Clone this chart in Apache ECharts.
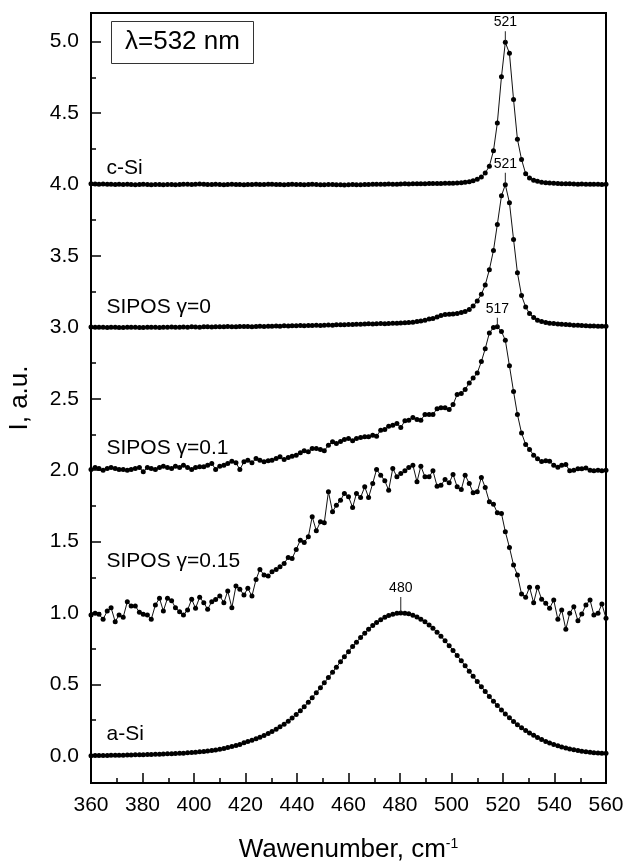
<!DOCTYPE html>
<html><head><meta charset="utf-8">
<script src="https://cdn.jsdelivr.net/npm/echarts@6/dist/echarts.min.js"></script>
<style>html,body{margin:0;padding:0;background:#fff}#c{width:624px;height:864px}</style>
</head><body><div id="c"></div>
<script>
const WAVENUMBER = [
360.0,361.6,363.1,364.7,366.3,367.8,369.4,370.9,
372.5,374.1,375.6,377.2,378.8,380.3,381.9,383.4,
385.0,386.6,388.1,389.7,391.3,392.8,394.4,395.9,
397.5,399.1,400.6,402.2,403.8,405.3,406.9,408.4,
410.0,411.6,413.1,414.7,416.3,417.8,419.4,420.9,
422.5,424.1,425.6,427.2,428.8,430.3,431.9,433.4,
435.0,436.6,438.1,439.7,441.3,442.8,444.4,445.9,
447.5,449.1,450.6,452.2,453.8,455.3,456.9,458.4,
460.0,461.6,463.1,464.7,466.3,467.8,469.4,470.9,
472.5,474.1,475.6,477.2,478.8,480.3,481.9,483.4,
485.0,486.6,488.1,489.7,491.3,492.8,494.4,495.9,
497.5,499.1,500.6,502.2,503.8,505.3,506.9,508.4,
510.0,511.6,513.1,514.7,516.3,517.8,519.4,520.9,
522.5,524.1,525.6,527.2,528.8,530.3,531.9,533.4,
535.0,536.6,538.1,539.7,541.3,542.8,544.4,545.9,
547.5,549.1,550.6,552.2,553.8,555.3,556.9,558.4,
560.0];

const C_SI = [
4.004,4.003,4.002,4.003,4.001,4.002,4.000,4.001,
3.999,4.001,4.000,3.998,4.000,4.001,3.999,3.998,
4.000,3.999,3.997,3.999,4.000,3.998,3.999,4.001,
4.002,4.000,4.002,4.003,4.001,4.000,3.999,4.001,
4.000,3.998,3.999,4.001,4.000,3.999,3.997,3.999,
4.000,4.001,3.999,4.000,4.002,4.001,4.000,3.999,
3.998,4.000,4.001,4.000,3.999,3.998,4.000,4.001,
4.000,3.998,3.997,3.999,4.000,3.998,3.997,3.996,
3.998,3.999,3.997,3.998,4.000,3.999,4.001,4.002,
4.001,4.002,4.003,4.002,4.001,4.003,4.004,4.003,
4.004,4.005,4.004,4.005,4.006,4.006,4.007,4.007,
4.008,4.008,4.009,4.010,4.012,4.015,4.019,4.026,
4.036,4.052,4.080,4.128,4.236,4.430,4.753,4.995,
4.918,4.594,4.317,4.175,4.075,4.045,4.030,4.022,
4.016,4.012,4.010,4.008,4.006,4.005,4.004,4.004,
4.003,4.002,4.003,4.002,4.001,4.002,4.001,4.000,
4.001];

const SIPOS_0 = [
3.002,3.001,3.000,3.001,2.999,3.000,3.001,2.999,
2.998,3.000,3.001,3.000,2.999,2.998,3.000,3.001,
3.000,2.999,3.000,3.001,3.002,3.000,3.001,3.002,
3.001,3.003,3.002,3.001,3.003,3.004,3.002,3.003,
3.004,3.003,3.005,3.004,3.003,3.005,3.006,3.005,
3.004,3.006,3.007,3.006,3.008,3.007,3.009,3.008,
3.010,3.009,3.011,3.010,3.012,3.011,3.013,3.012,
3.014,3.013,3.015,3.016,3.015,3.017,3.018,3.017,
3.019,3.020,3.022,3.021,3.023,3.024,3.023,3.025,
3.026,3.025,3.027,3.028,3.029,3.030,3.031,3.033,
3.035,3.040,3.044,3.050,3.058,3.061,3.072,3.082,
3.089,3.091,3.093,3.096,3.103,3.110,3.124,3.149,
3.184,3.231,3.296,3.403,3.538,3.720,3.921,3.998,
3.872,3.615,3.382,3.222,3.142,3.096,3.068,3.049,
3.040,3.033,3.029,3.026,3.023,3.021,3.019,3.017,
3.015,3.014,3.012,3.011,3.009,3.009,3.008,3.007,
3.007];

const SIPOS_01 = [
2.005,2.019,2.012,2.000,2.012,2.019,2.012,2.005,2.005,2.000,
2.005,2.012,2.019,1.988,2.019,2.012,2.005,2.019,2.028,2.019,
2.012,2.028,2.019,2.035,2.019,2.005,2.019,2.023,2.023,2.035,
2.047,2.005,2.028,2.035,2.047,2.063,2.051,2.005,2.058,2.070,
2.051,2.082,2.070,2.058,2.065,2.070,2.082,2.093,2.075,2.088,
2.098,2.105,2.121,2.135,2.128,2.152,2.152,2.145,2.135,2.175,
2.198,2.187,2.200,2.215,2.222,2.205,2.222,2.228,2.233,2.233,
2.245,2.238,2.280,2.285,2.308,2.315,2.327,2.298,2.345,2.350,
2.368,2.355,2.350,2.390,2.390,2.390,2.430,2.436,2.436,2.424,
2.459,2.530,2.536,2.564,2.610,2.645,2.680,2.760,2.850,2.960,
2.998,3.003,2.970,2.910,2.730,2.550,2.390,2.260,2.180,2.145,
2.105,2.080,2.060,2.065,2.063,2.035,2.020,2.035,2.040,1.995,
2.000,2.010,2.010,2.015,2.000,1.995,2.000,1.995,2.000];

const SIPOS_015 = [
0.986,0.998,0.991,0.956,1.014,1.037,0.939,0.986,0.970,1.079,
1.049,1.049,1.005,0.991,0.986,0.956,1.056,1.103,1.014,1.103,
1.086,1.037,1.009,0.986,1.021,1.096,1.033,1.110,1.072,1.026,
1.079,1.095,1.119,1.072,1.154,1.037,1.189,1.166,1.126,1.173,
1.119,1.235,1.305,1.266,1.259,1.289,1.305,1.324,1.347,1.389,
1.382,1.445,1.510,1.494,1.534,1.674,1.576,1.639,1.632,1.849,
1.709,1.755,1.790,1.837,1.814,1.739,1.837,1.809,1.883,1.809,
1.907,2.005,1.965,1.925,1.860,2.012,1.953,1.977,1.995,2.019,
2.035,1.918,2.028,1.953,1.953,1.995,1.888,1.895,1.935,1.911,
1.970,1.883,1.865,1.965,1.907,1.841,1.848,1.949,1.879,1.778,
1.762,1.701,1.697,1.569,1.459,1.336,1.266,1.133,1.110,1.180,
1.072,1.180,1.096,1.068,1.033,1.091,0.956,1.021,0.886,0.998,
1.044,0.946,0.993,1.056,1.091,0.986,0.998,1.063,0.963];

const A_SI = [
0.001,0.002,0.002,0.003,0.003,0.004,0.004,0.005,0.005,0.006,
0.006,0.007,0.008,0.008,0.009,0.010,0.011,0.012,0.013,0.014,
0.015,0.016,0.018,0.019,0.021,0.023,0.025,0.028,0.031,0.034,
0.037,0.041,0.046,0.052,0.058,0.065,0.073,0.080,0.091,0.100,
0.110,0.120,0.131,0.143,0.156,0.170,0.186,0.203,0.222,0.243,
0.265,0.290,0.315,0.344,0.376,0.407,0.441,0.477,0.511,0.548,
0.585,0.621,0.658,0.693,0.729,0.765,0.796,0.829,0.859,0.886,
0.912,0.933,0.953,0.970,0.982,0.992,0.998,1.000,0.999,0.994,
0.985,0.972,0.957,0.938,0.916,0.893,0.865,0.837,0.805,0.771,
0.738,0.702,0.665,0.630,0.592,0.557,0.520,0.484,0.450,0.416,
0.382,0.352,0.321,0.293,0.266,0.240,0.218,0.197,0.177,0.160,
0.144,0.129,0.114,0.101,0.090,0.080,0.070,0.062,0.055,0.048,
0.042,0.037,0.032,0.028,0.025,0.022,0.020,0.019,0.018];

const SERIES_NAMES = ['c-Si', 'SIPOS \u03b3=0', 'SIPOS \u03b3=0.1', 'SIPOS \u03b3=0.15', 'a-Si'];
const SERIES_VALUES = [C_SI, SIPOS_0, SIPOS_01, SIPOS_015, A_SI];
const PEAK_LABELS = ['521', '521', '517', null, '480'];
const X_TICKS_INTERVAL = 20;
const Y_TICKS = [0, 0.5, 1, 1.5, 2, 2.5, 3, 3.5, 4, 4.5, 5];
const Y_MINOR_TICKS = [0.25, 0.75, 1.25, 1.75, 2.25, 2.75, 3.25, 3.75, 4.25, 4.75];
const LEGEND_TEXT = '\u03bb=532 nm';

// styles (pixel offsets / sizes)
const FONT = '"Liberation Sans", Arial, sans-serif';
const NAME_LABEL_OFFSET = [[16, -15], [16, -19], [16, -21], [16, -53], [16, -21]];
const PEAK_TICK_LEN = [10, 11, 8, 0, 15];

const chart = echarts.init(document.getElementById('c'), null, {renderer: 'canvas'});

const series = SERIES_VALUES.map((vals, i) => {
  const data = vals.map((v, j) => [WAVENUMBER[j], v]);
  let peakIdx = 0;
  vals.forEach((v, j) => { if (v > vals[peakIdx]) peakIdx = j; });
  const mp = [{
    coord: data[0],
    symbol: 'circle', symbolSize: 1,
    itemStyle: {color: 'rgba(0,0,0,0)'},
    label: {show: true, position: NAME_LABEL_OFFSET[i], align: 'left', verticalAlign: 'middle',
      formatter: SERIES_NAMES[i], fontSize: 21, color: '#000', fontFamily: FONT}
  }];
  if (PEAK_LABELS[i]) {
    const L = PEAK_TICK_LEN[i];
    mp.push({
      coord: data[peakIdx],
      symbol: 'rect', symbolSize: [1, L], symbolOffset: [0, -(L / 2 + 1)],
      itemStyle: {color: '#222'},
      label: {show: true, position: 'top', distance: 2, formatter: PEAK_LABELS[i],
        fontSize: 14, color: '#000', fontFamily: FONT}
    });
  }
  return {
    name: SERIES_NAMES[i], type: 'line', data,
    symbol: 'circle', symbolSize: 5, showSymbol: true,
    lineStyle: {color: '#111', width: 1},
    itemStyle: {color: '#000'},
    emphasis: {disabled: true},
    markPoint: {silent: true, animation: false, data: mp}
  };
});

const option = {
  animation: false,
  backgroundColor: '#fff',
  textStyle: {fontFamily: FONT, color: '#000'},
  title: {
    text: LEGEND_TEXT, left: 111, top: 21,
    padding: [8, 14, 9, 14], borderColor: '#333', borderWidth: 1,
    textStyle: {fontSize: 26, fontWeight: 'normal', color: '#000', fontFamily: FONT}
  },
  grid: {left: 91, right: 18, top: 13, bottom: 81, show: true, borderColor: '#000', borderWidth: 2,
    backgroundColor: 'transparent', containLabel: false, outerBoundsMode: 'none'},
  xAxis: {
    type: 'value', min: 360, max: 560, interval: X_TICKS_INTERVAL,
    axisLine: {show: true, onZero: false, lineStyle: {color: '#000', width: 2}},
    axisTick: {show: true, inside: true, length: 10, lineStyle: {color: '#000', width: 1.5}},
    minorTick: {show: true, splitNumber: 2, length: 5, lineStyle: {color: '#000', width: 1.5}},
    axisLabel: {fontSize: 21, color: '#000', margin: 12, fontFamily: FONT},
    splitLine: {show: false}, minorSplitLine: {show: false},
    name: 'Wawenumber, cm{sup|-1}', nameLocation: 'middle', nameGap: 54,
    nameTextStyle: {fontSize: 26, color: '#000', fontFamily: FONT,
      rich: {sup: {fontSize: 14, verticalAlign: 'top', padding: [0, 0, 6, 0], fontFamily: FONT, color: '#000'}}}
  },
  yAxis: [{
    type: 'value', min: -0.19, max: 5.2, position: 'left',
    axisLine: {show: true, onZero: false, lineStyle: {color: '#000', width: 2}},
    axisTick: {show: true, inside: true, length: 10, customValues: Y_TICKS, lineStyle: {color: '#000', width: 1.5}},
    axisLabel: {customValues: Y_TICKS, formatter: v => v.toFixed(1), fontSize: 21, color: '#000', margin: 12, fontFamily: FONT},
    splitLine: {show: false},
    name: 'I, a.u.', nameLocation: 'middle', nameGap: 58,
    nameTextStyle: {fontSize: 26, color: '#000', fontFamily: FONT}
  }, {
    type: 'value', min: -0.19, max: 5.2, position: 'left',
    axisLine: {show: false},
    axisTick: {show: true, inside: true, length: 5, customValues: Y_MINOR_TICKS, lineStyle: {color: '#000', width: 1.5}},
    axisLabel: {show: false},
    splitLine: {show: false}
  }],
  series
};
chart.setOption(option);
</script>
</body></html>
